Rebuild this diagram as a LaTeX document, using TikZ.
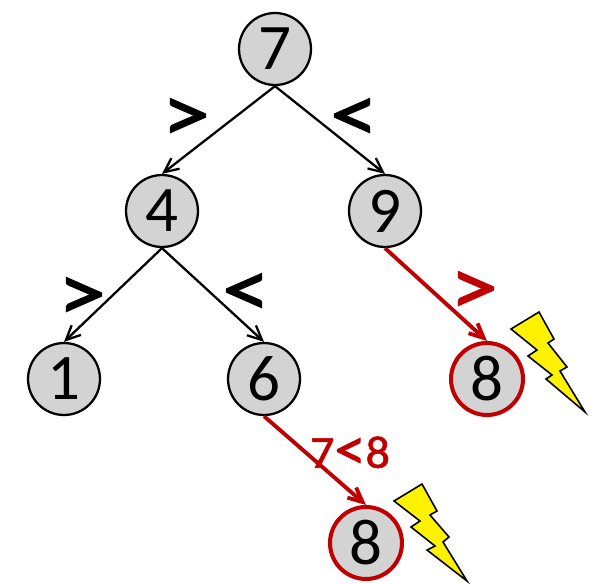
\documentclass[tikz,border=0pt]{standalone}
\usepackage{fontspec}
\setmainfont{Carlito}
\newfontfamily\signfont[FakeBold=1.9,FakeStretch=1.18]{Carlito}
\newfontfamily\notefont[FakeBold=1.4,FakeStretch=1.05]{Carlito}
\usetikzlibrary{arrows.meta}
\definecolor{darkred}{RGB}{192,0,0}
\definecolor{nodegray}{RGB}{211,211,211}
\begin{document}
\begin{tikzpicture}[x=0.02cm,y=-0.02cm]
 \tikzset{directed/.style={-{Straight Barb[length=9pt,width=12pt,angle=50:9pt]}}}
 \tikzset{vertex/.style={draw, circle, fill=nodegray, line width=1.3pt, minimum size=1.44cm, inner sep=0pt, font=\fontsize{37}{37}\selectfont}}
 \tikzset{wrong/.style={vertex, draw=darkred, line width=2.3pt}}
 \tikzset{sign/.style={inner sep=0pt, font=\fontsize{46}{46}\signfont}}
 \tikzset{bolt/.style={draw=black, fill=yellow, line width=0.9pt, line join=miter}}
  \useasboundingbox (0,0) rectangle (592,583);
  \node[vertex] (N7) at (275,49) {7};
  \node[vertex] (N4) at (162,211) {4};
  \node[vertex] (N9) at (385,211) {9};
  \node[vertex] (N1) at (64,379) {1};
  \node[vertex] (N6) at (264,379) {6};
  \node[wrong] (W1) at (487,379) {8};
  \node[wrong] (W2) at (366,543) {8};
  \draw[line width=1.3pt, directed] (N7.south) -- (N4.north);
  \draw[line width=1.3pt, directed] (N7.south) -- (N9.north);
  \draw[line width=1.3pt, directed] (N4.south) -- (N1.north);
  \draw[line width=1.3pt, directed] (N4.south) -- (N6.north);
  \draw[line width=2.2pt, directed, color=darkred] (N9.south) -- (W1.north);
  \draw[line width=2.2pt, directed, color=darkred] (N6.south) -- (W2.north);
  \node[sign] (S1) at (186,120) {>};
  \node[sign] (S2) at (354,120) {<};
  \node[sign] (S3) at (82,299) {>};
  \node[sign] (S4) at (246,295) {<};
  \node[sign, color=darkred] (S5) at (474,293) {>};
  \node[color=darkred, inner sep=0pt, font=\fontsize{26}{26}\notefont] (S6) at (350,453) {7\raisebox{-1pt}{\fontsize{34}{34}\notefont<}8};
  \draw[bolt] (511,329) -- (539,312) -- (554,339) -- (548,343) -- (567,367) -- (560,371)
   -- (585,412) -- (546,379) -- (552,375) -- (528,356) -- (537,350) -- cycle;
  \draw[bolt] (394,501) -- (422,484) -- (437,511) -- (430,515) -- (449,537) -- (443,542)
   -- (467,581) -- (427,550) -- (435,546) -- (411,527) -- (420,521) -- cycle;
\end{tikzpicture}
\end{document}
